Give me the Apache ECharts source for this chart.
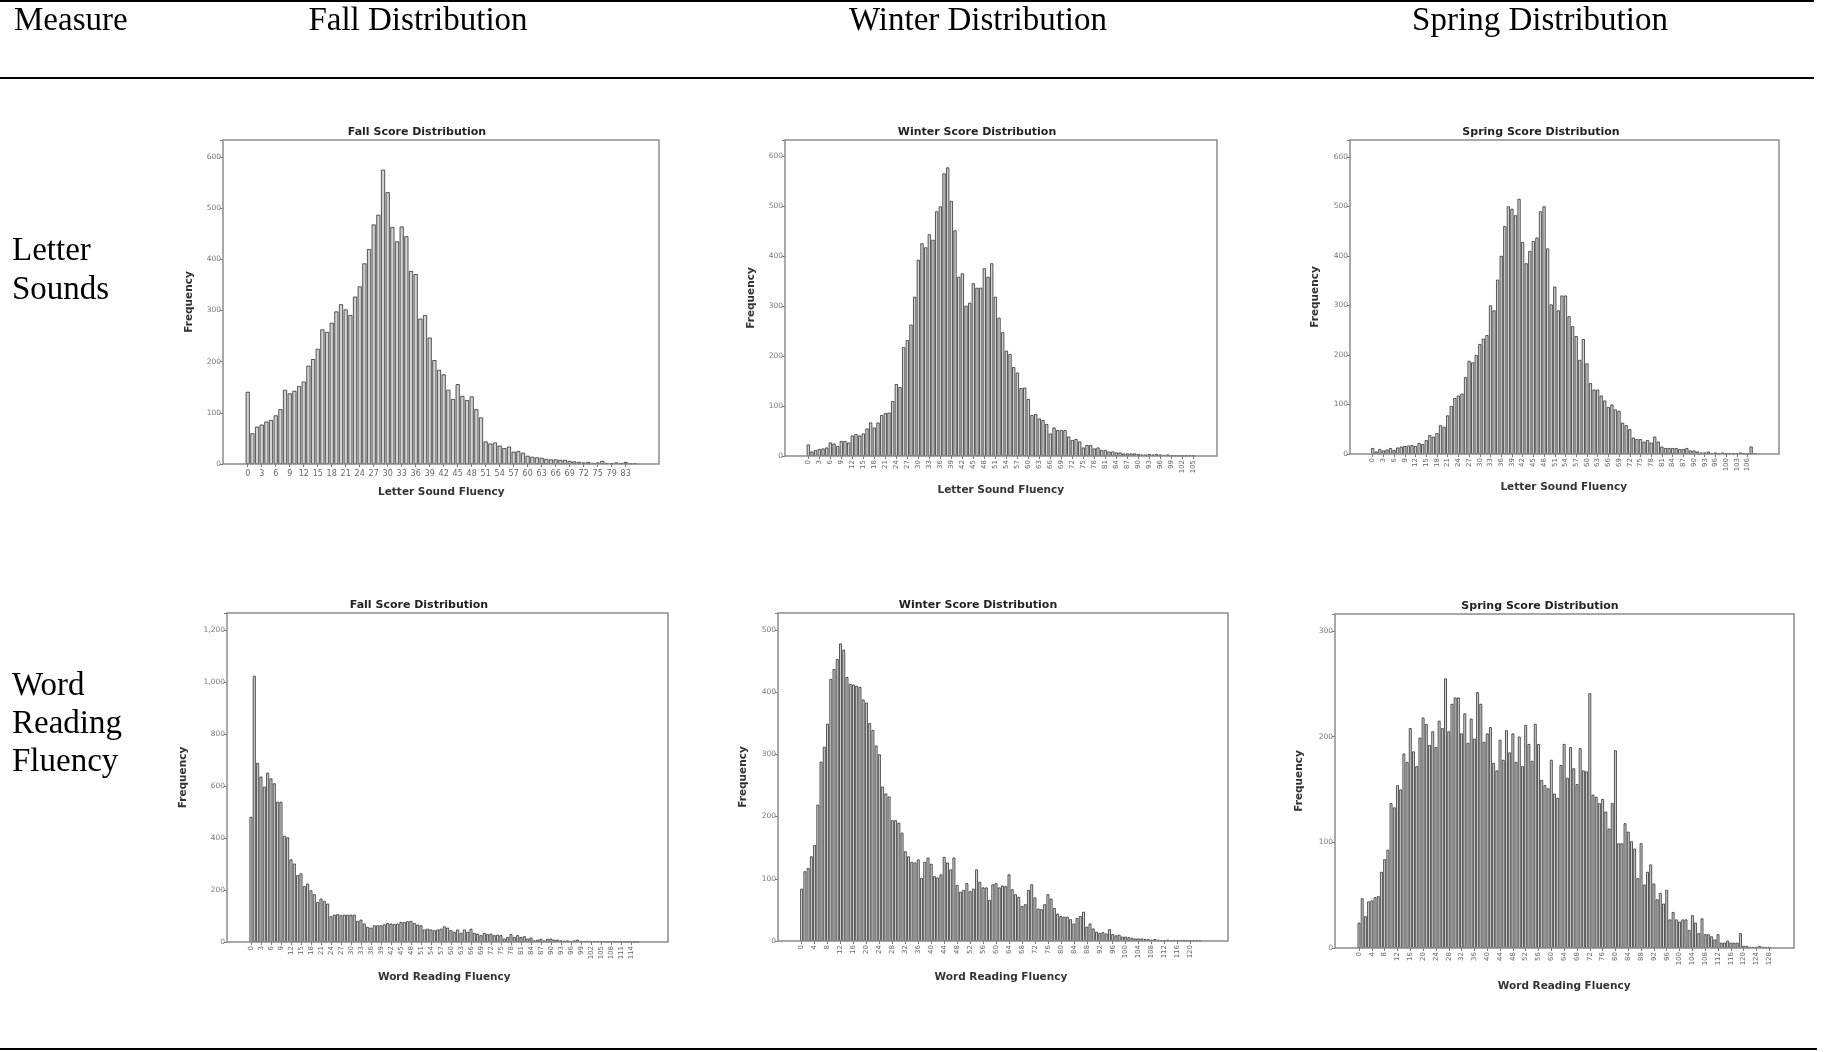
<!DOCTYPE html>
<html><head><meta charset="utf-8">
<script src="https://cdn.jsdelivr.net/npm/echarts@6/dist/echarts.min.js"></script>
<style>html,body{margin:0;padding:0;background:#fff}#c{width:1827px;height:1052px}</style>
</head><body><div id="c"></div>
<script>
// ---- table text ----
const columnHeaders = ['Measure', 'Fall Distribution', 'Winter Distribution', 'Spring Distribution'];
const rowLabels = [['Letter', 'Sounds'], ['Word', 'Reading', 'Fluency']];
const chartTitles = ['Fall Score Distribution', 'Winter Score Distribution', 'Spring Score Distribution',
                     'Fall Score Distribution', 'Winter Score Distribution', 'Spring Score Distribution'];
const xNames = ['Letter Sound Fluency', 'Letter Sound Fluency', 'Letter Sound Fluency',
                'Word Reading Fluency', 'Word Reading Fluency', 'Word Reading Fluency'];
const yName = 'Frequency';

// ---- categories (scores) ----
const fallLSCats = [0,1,2,3,4,5,6,7,8,9,10,11,12,13,14,15,16,17,18,19,20,21,22,23,24,25,26,27,28,29,30,31,32,33,34,35,36,37,38,39,40,41,42,43,44,45,46,47,48,49,50,51,52,53,54,55,56,57,58,59,60,61,62,63,64,65,66,67,68,69,70,71,72,73,74,75,76,78,79,80,82,83,85,88];
const winterLSCats = [0,1,2,3,4,5,6,7,8,9,10,11,12,13,14,15,16,17,18,19,20,21,22,23,24,25,26,27,28,29,30,31,32,33,34,35,36,37,38,39,40,41,42,43,44,45,46,47,48,49,50,51,52,53,54,55,56,57,58,59,60,61,62,63,64,65,66,67,68,69,70,71,72,73,74,75,76,77,78,79,80,81,82,83,84,85,86,87,88,89,90,91,92,93,94,95,96,97,98,99,100,101,102,103,104,105];
const springLSCats = [0,1,2,3,4,5,6,7,8,9,10,11,12,13,14,15,16,17,18,19,20,21,22,23,24,25,26,27,28,29,30,31,32,33,34,35,36,37,38,39,40,41,42,43,44,45,46,47,48,49,50,51,52,53,54,55,56,57,58,59,60,61,62,63,64,65,66,67,68,69,70,71,72,73,74,75,76,77,78,79,80,81,82,83,84,85,86,87,88,89,90,91,92,93,94,95,96,97,98,100,101,102,103,104,105,106,107,108];
const fallWRFCats = [0,1,2,3,4,5,6,7,8,9,10,11,12,13,14,15,16,17,18,19,20,21,22,23,24,25,26,27,28,29,30,31,32,33,34,35,36,37,38,39,40,41,42,43,44,45,46,47,48,49,50,51,52,53,54,55,56,57,58,59,60,61,62,63,64,65,66,67,68,69,70,71,72,73,74,75,76,77,78,79,80,81,82,83,84,85,86,87,88,89,90,91,92,93,94,95,96,97,98,99,100,101,102,103,104,105,106,107,108,109,110,111,112,113,114,115,116];
const winterWRFCats = [0,1,2,3,4,5,6,7,8,9,10,11,12,13,14,15,16,17,18,19,20,21,22,23,24,25,26,27,28,29,30,31,32,33,34,35,36,37,38,39,40,41,42,43,44,45,46,47,48,49,50,51,52,53,54,55,56,57,58,59,60,61,62,63,64,65,66,67,68,69,70,71,72,73,74,75,76,77,78,79,80,81,82,83,84,85,86,87,88,89,90,91,92,93,94,95,96,97,98,99,100,101,102,103,104,105,106,107,108,109,110,111,112,113,114,115,116,117,118,119,120,121,122,123];
const springWRFCats = [0,1,2,3,4,5,6,7,8,9,10,11,12,13,14,15,16,17,18,19,20,21,22,23,24,25,26,27,28,29,30,31,32,33,34,35,36,37,38,39,40,41,42,43,44,45,46,47,48,49,50,51,52,53,54,55,56,57,58,59,60,61,62,63,64,65,66,67,68,69,70,71,72,73,74,75,76,77,78,79,80,81,82,83,84,85,86,87,88,89,90,91,92,93,94,95,96,97,98,99,100,101,102,103,104,105,106,107,108,109,110,111,112,113,114,115,116,117,118,119,120,121,122,123,124,125,126,127,128];

// ---- frequencies ----
const fallLS = [141,60,73,77,83,86,95,107,145,138,143,152,161,192,205,225,263,258,276,298,312,302,291,327,347,392,420,468,487,575,531,463,435,464,445,377,371,284,291,247,203,184,175,145,127,156,133,125,132,107,91,44,40,42,36,31,34,24,25,22,16,14,13,12,10,9,9,8,8,6,5,4,3,4,2,3,6,2,2,3,2,4,1,1];
const winterLS = [23,9,12,14,15,17,27,25,20,30,30,27,41,44,41,45,55,67,57,67,82,86,87,110,144,138,218,232,263,319,393,426,418,444,433,490,500,566,578,511,452,359,366,301,307,346,337,337,376,359,386,319,277,248,211,204,178,167,136,137,114,82,84,75,72,64,45,57,52,52,52,39,32,34,29,17,22,22,15,17,12,12,9,9,7,7,5,5,5,5,4,3,3,4,3,4,3,2,3,1,1,1,1,1,1,1];
const springLS = [12,5,10,7,9,12,8,13,15,16,17,18,16,22,20,28,38,35,42,58,55,78,97,113,118,122,155,188,185,200,222,233,240,300,290,352,400,460,500,495,482,515,428,385,410,430,437,490,500,415,302,338,290,320,320,278,258,238,190,232,183,143,130,130,118,108,95,100,90,87,63,58,50,33,30,30,25,28,23,35,25,15,12,12,12,12,10,10,12,7,7,5,3,3,5,2,3,1,3,1,2,1,1,3,1,1,15,2];
const fallWRF = [482,1025,690,637,598,652,630,611,540,540,409,403,318,302,257,264,215,225,199,184,154,167,158,148,99,105,107,103,105,105,105,105,81,86,71,58,55,64,64,64,68,73,71,69,71,77,77,80,81,73,67,64,48,51,48,45,48,51,60,55,45,39,48,35,48,39,51,35,32,26,35,30,32,26,28,26,13,19,30,19,26,19,22,13,17,6,9,12,6,12,13,9,9,6,5,6,4,6,9,4,4,4,3,3,4,3,3,1,3,1,1,1,1,1,1,1,1];
const winterWRF = [84,112,117,136,154,219,288,312,349,421,437,453,478,468,424,413,412,410,408,388,383,350,339,314,300,248,237,232,194,194,190,174,144,136,127,126,131,101,127,134,124,104,102,107,135,126,115,134,90,79,82,93,80,84,115,95,86,86,66,91,93,86,89,88,107,83,75,71,56,59,82,91,70,52,51,59,75,68,53,44,40,39,39,35,28,37,40,47,23,28,20,15,13,14,12,19,11,9,10,7,7,6,5,4,4,4,3,3,2,3,2,1,1,2,1,1,1,1,1,1,1,1,1,1];
const springWRF = [24,47,30,44,45,48,49,72,84,93,137,133,154,150,184,176,208,186,172,199,218,212,192,205,190,215,208,255,205,231,237,237,203,222,194,217,198,242,231,195,203,209,175,168,197,178,206,185,203,176,200,172,211,193,177,212,193,159,154,151,178,146,142,173,193,161,190,170,155,189,168,167,241,145,143,137,141,129,113,137,187,99,99,118,110,101,94,66,99,60,72,79,61,46,52,42,55,27,34,27,25,27,27,17,31,24,14,28,13,13,11,8,13,5,5,7,5,5,5,14,2,2,1,1,1,2,1,1,1];

// ---- y-axis tick settings ----
const yMax = [633, 633, 634, 1267, 527, 316];
const yStep = [100, 100, 100, 200, 100, 100];

const panelCats = [fallLSCats, winterLSCats, springLSCats, fallWRFCats, winterWRFCats, springWRFCats];
const panelData = [fallLS, winterLS, springLS, fallWRF, winterWRF, springWRF];

// ---- layout (pixels) ----
const layout = [
  {grid:[245.4,140,391.9,324], frame:[223,140,436,324], title:[417,132], yGap:28, xGap:23, xRot:0,  xInt:2},
  {grid:[806.5,140,388.7,316], frame:[785,140,432,316], title:[977,132], yGap:28, xGap:29, xRot:90, xInt:2},
  {grid:[1370.9,140,385.6,314], frame:[1350,140,429,314], title:[1541,132], yGap:29, xGap:28, xRot:90, xInt:2},
  {grid:[249.3,613,390,329], frame:[227,613,441,329], title:[419,605], yGap:38, xGap:30, xRot:90, xInt:2},
  {grid:[800,613,401.8,328], frame:[778,613,450,328], title:[978,605], yGap:29, xGap:31, xRot:90, xInt:3},
  {grid:[1357.4,614,413.5,334], frame:[1335,614,459,334], title:[1540,606], yGap:30, xGap:33, xRot:90, xInt:3}
];

const SANS = 'DejaVu Sans';
const SERIF = 'Liberation Serif';

const grids = [], xAxes = [], yAxes = [], series = [], graphics = [];

layout.forEach((L, i) => {
  grids.push({left: L.grid[0], top: L.grid[1], width: L.grid[2], height: L.grid[3], outerBoundsMode: 'none'});
  xAxes.push({
    gridIndex: i, type: 'category', data: panelCats[i].map(String),
    axisLine: {show: false},
    axisTick: {show: true, alignWithLabel: true, interval: L.xInt, length: 3, lineStyle: {color: '#777', width: 1}},
    axisLabel: {interval: L.xInt, rotate: L.xRot, fontSize: L.xRot ? 7 : 8, color: '#666', fontFamily: SANS, margin: L.xRot ? 4 : 6},
    splitLine: {show: false},
    name: xNames[i], nameLocation: 'middle', nameGap: L.xGap,
    nameTextStyle: {fontFamily: SANS, fontWeight: 'bold', fontSize: 10.5, color: '#333'}
  });
  const step = yStep[i];
  yAxes.push({
    gridIndex: i, type: 'value', min: 0, max: yMax[i], interval: step,
    offset: L.grid[0] - L.frame[0],
    axisLine: {show: false},
    axisTick: {show: true, length: 3, lineStyle: {color: '#777', width: 1}},
    axisLabel: {fontSize: 7.5, color: '#777', fontFamily: SANS, margin: 2,
      formatter: v => (v % step === 0 ? v.toLocaleString('en-US') : '')},
    splitLine: {show: false},
    name: yName, nameLocation: 'middle', nameGap: L.yGap, nameRotate: 90,
    nameTextStyle: {fontFamily: SANS, fontWeight: 'bold', fontSize: 10.5, color: '#333'}
  });
  series.push({
    type: 'bar', xAxisIndex: i, yAxisIndex: i, data: panelData[i],
    barCategoryGap: '12%', silent: true, animation: false,
    itemStyle: {color: '#d2d2d2', borderColor: '#2e2e2e', borderWidth: 0.8}
  });
  graphics.push({
    type: 'rect', z: 50, silent: true,
    shape: {x: L.frame[0], y: L.frame[1], width: L.frame[2], height: L.frame[3]},
    style: {fill: 'transparent', stroke: '#8c8c8c', lineWidth: 1.5}
  });
  graphics.push({
    type: 'text', x: L.title[0], y: L.title[1], silent: true,
    style: {text: chartTitles[i], fontFamily: SANS, fontWeight: 'bold', fontSize: 11, fill: '#222', align: 'center', verticalAlign: 'middle'}
  });
});

// table header texts
const headerX = [14, 418, 978, 1540];
columnHeaders.forEach((t, i) => {
  graphics.push({type: 'text', x: headerX[i], y: 21, silent: true,
    style: {text: t, fontFamily: SERIF, fontSize: 33, fill: '#000', align: i === 0 ? 'left' : 'center', verticalAlign: 'middle'}});
});
// row labels
const rowY = [[251, 290], [686, 724, 762]];
rowLabels.forEach((lines, r) => {
  lines.forEach((t, k) => {
    graphics.push({type: 'text', x: 12, y: rowY[r][k], silent: true,
      style: {text: t, fontFamily: SERIF, fontSize: 33, fill: '#000', align: 'left', verticalAlign: 'middle'}});
  });
});
// table rules
graphics.push({type: 'line', silent: true, shape: {x1: 0, y1: 1, x2: 1814, y2: 1}, style: {stroke: '#000', lineWidth: 2}});
graphics.push({type: 'line', silent: true, shape: {x1: 0, y1: 78, x2: 1814, y2: 78}, style: {stroke: '#000', lineWidth: 2}});
graphics.push({type: 'line', silent: true, shape: {x1: 0, y1: 1049, x2: 1817, y2: 1049}, style: {stroke: '#000', lineWidth: 2}});

const chart = echarts.init(document.getElementById('c'), null, {renderer: 'canvas'});
chart.setOption({
  animation: false,
  backgroundColor: '#fff',
  grid: grids, xAxis: xAxes, yAxis: yAxes, series: series,
  graphic: {elements: graphics}
});
</script>
</body></html>
